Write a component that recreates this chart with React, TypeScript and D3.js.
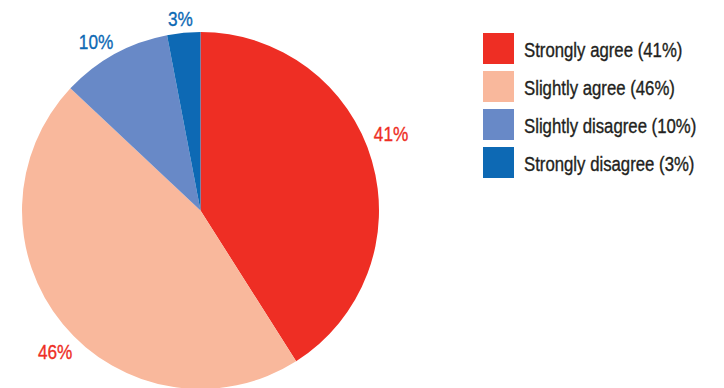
import React from "react";
import * as d3 from "d3";

const categories = ["Strongly agree", "Slightly agree", "Slightly disagree", "Strongly disagree"];
const values = [41, 46, 10, 3];
const colors = ["#ee2e24", "#f9b89c", "#6889c7", "#0d69b4"];
const labelColors = ["#ee2e24", "#ee2e24", "#0d69b4", "#0d69b4"];

const W = 724;
const H = 388;
const FONT = "'Liberation Sans', Arial, sans-serif";

export default function App() {
  const cx = 200.5;
  const cy = 210.5;
  const R = 178.5;
  const pie = d3.pie<number>().sort(null).value((d) => d)(values);
  const arc = d3.arc<d3.PieArcDatum<number>>().innerRadius(0).outerRadius(R);

  return (
    <svg width={W} height={H} style={{ position: "absolute", left: 0, top: 0, background: "#fff" }}>
      <g transform={`translate(${cx},${cy})`}>
        {pie.map((p, i) => (
          <path key={i} d={arc(p) || ""} fill={colors[i]} />
        ))}
        {pie.map((p, i) => {
          const mid = (p.startAngle + p.endAngle) / 2;
          const s = Math.abs(Math.sin(mid));
          const a = mid - (6 * s * Math.PI) / 180;
          const r = R + 13.5 + 14 * s;
          const x = r * Math.sin(a);
          const y = -r * Math.cos(a);
          return (
            <g key={"l" + i} transform={`translate(${x},${y}) scale(0.82,1)`}>
              <text x={0} y={7.5} fill={labelColors[i]} stroke={labelColors[i]} strokeWidth={0.35} fontFamily={FONT} fontSize={21} textAnchor="middle">
                {values[i]}%
              </text>
            </g>
          );
        })}
      </g>
      {categories.map((c, i) => {
        const y = 33 + 38 * i;
        return (
          <g key={"g" + i}>
            <rect x={483} y={y} width={31} height={31} fill={colors[i]} />
            <g transform={`translate(524,${y + 23.5}) scale(0.86,1)`}>
              <text x={0} y={0} fill="#231f20" stroke="#231f20" strokeWidth={0.35} fontFamily={FONT} fontSize={19.5}>
                {c} ({values[i]}%)
              </text>
            </g>
          </g>
        );
      })}
    </svg>
  );
}
